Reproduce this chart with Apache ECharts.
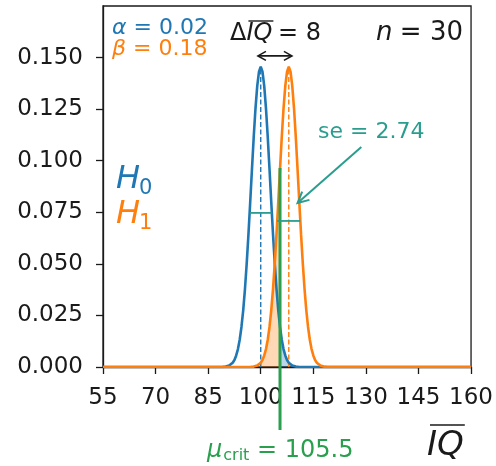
<!DOCTYPE html>
<html><head><meta charset="utf-8">
<script src="https://cdn.jsdelivr.net/npm/echarts@6/dist/echarts.min.js"></script>
<style>html,body{margin:0;padding:0;background:#fff}#c{width:496px;height:466px}</style>
</head><body><div id="c"></div>
<script>
// ---- data ----
const xTicks = [55, 70, 85, 100, 115, 130, 145, 160];
const yTicks = [0, 0.025, 0.05, 0.075, 0.1, 0.125, 0.15];
const iqH0 = [89,89.5,90,90.5,91,91.5,92,92.5,93,93.5,94,94.5,95,95.5,96,96.5,97,97.5,98,98.5,99,99.5,100,100.5,101,101.5,102,102.5,103,103.5,104,104.5,105,105.5,106,106.5,107,107.5,108,108.5,109,109.5,110,110.5,111];
const densH0 = [0.0000,0.0001,0.0002,0.0004,0.0007,0.0012,0.0021,0.0034,0.0056,0.0087,0.0132,0.0194,0.0275,0.0378,0.0502,0.0644,0.0800,0.0960,0.1115,0.1253,0.1362,0.1432,0.1456,0.1432,0.1362,0.1253,0.1115,0.0960,0.0800,0.0644,0.0502,0.0378,0.0275,0.0194,0.0132,0.0087,0.0056,0.0034,0.0021,0.0012,0.0007,0.0004,0.0002,0.0001,0.0000];
const iqH1 = [97,97.5,98,98.5,99,99.5,100,100.5,101,101.5,102,102.5,103,103.5,104,104.5,105,105.5,106,106.5,107,107.5,108,108.5,109,109.5,110,110.5,111,111.5,112,112.5,113,113.5,114,114.5,115,115.5,116,116.5,117,117.5,118,118.5,119];
const densH1 = [0.0000,0.0001,0.0002,0.0004,0.0007,0.0012,0.0021,0.0034,0.0056,0.0087,0.0132,0.0194,0.0275,0.0378,0.0502,0.0644,0.0800,0.0960,0.1115,0.1253,0.1362,0.1432,0.1456,0.1432,0.1362,0.1253,0.1115,0.0960,0.0800,0.0644,0.0502,0.0378,0.0275,0.0194,0.0132,0.0087,0.0056,0.0034,0.0021,0.0012,0.0007,0.0004,0.0002,0.0001,0.0000];
const mu0 = 100, mu1 = 108, muCrit = 105.5, peak = 0.1456;
const alphaVal = '0.02', betaVal = '0.18', seVal = '2.74', nVal = '30', deltaVal = '8';

// ---- styling ----
const BLUE = '#1f77b4', ORANGE = '#ff7f0e', GREEN = '#2aa04f', TEAL = '#2a9d8f', INK = '#1a1a1a';
const FF = '"DejaVu Sans"';
const xMin = 55, xMax = 160;

const pair = (xs, ys) => xs.map((x, i) => [x, ys[i]]);
const curve0 = [[xMin, 0]].concat(pair(iqH0, densH0), [[xMax, 0]]);
const curve1 = [[xMin, 0]].concat(pair(iqH1, densH1), [[xMax, 0]]);
const betaArea = pair(iqH1, densH1).filter(p => p[0] <= muCrit);
const alphaArea = pair(iqH0, densH0).filter(p => p[0] >= muCrit);

const mctx = document.createElement('canvas').getContext('2d');
function tw(text, font) { mctx.font = font; return mctx.measureText(text).width; }
function fnt(size, italic) { return (italic ? 'italic ' : '') + size + 'px ' + FF; }
function T(x, y, text, size, color, italic) {
  return { type: 'text', z: 100, silent: true, style: { x: x, y: y, text: text, fill: color, font: fnt(size, italic), align: 'left', verticalAlign: 'middle' } };
}
function L(x1, y1, x2, y2, color, w) {
  return { type: 'line', z: 100, silent: true, shape: { x1, y1, x2, y2 }, style: { stroke: color, lineWidth: w } };
}

const graphics = [];
// alpha / beta
(function () {
  const s = 22, x0 = 112;
  const wa = tw('α', fnt(s, true));
  graphics.push(T(x0, 28, 'α', s, BLUE, true), T(x0 + wa, 28, ' = ' + alphaVal, s, BLUE, false));
  const wb = tw('β', fnt(s, true));
  graphics.push(T(x0, 49, 'β', s, ORANGE, true), T(x0 + wb, 49, ' = ' + betaVal, s, ORANGE, false));
})();
// Delta IQ = 8
(function () {
  const s = 24, x0 = 230, y = 34;
  const wd = tw('Δ', fnt(s, false));
  const wiq = tw('IQ', fnt(s, true));
  graphics.push(T(x0, y, 'Δ', s, INK, false), T(x0 + wd, y, 'IQ', s, INK, true), T(x0 + wd + wiq - 2, y, ' = ' + deltaVal, s, INK, false));
  graphics.push(L(x0 + wd + 2, y - 13, x0 + wd + wiq + 1, y - 13, INK, 1.4));
})();
// n = 30
(function () {
  const s = 26, y = 33;
  const wn = tw('n', fnt(s, true));
  const wr = tw(' = ' + nVal, fnt(s, false));
  const x0 = 461 - wn - wr;
  graphics.push(T(x0 + 3, y, 'n', s, INK, true), T(x0 + wn + 2, y, ' = ' + nVal, s, INK, false));
})();
// se
graphics.push(T(318, 132, 'se = ' + seVal, 22, TEAL, false));
// H0 / H1
(function () {
  const s = 32, ss = 21, x0 = 116;
  const wh = tw('H', fnt(s, true));
  graphics.push(T(x0, 180, 'H', s, BLUE, true), T(x0 + wh - 1, 189, '0', ss, BLUE, false));
  graphics.push(T(x0, 215, 'H', s, ORANGE, true), T(x0 + wh - 1, 224, '1', ss, ORANGE, false));
})();
// mu_crit
(function () {
  const s = 24, x0 = 207, y = 451;
  const wm = tw('μ', fnt(s, true));
  const wc = tw('crit', fnt(16, false));
  graphics.push(T(x0, y, 'μ', s, GREEN, true), T(x0 + wm + 1, y + 5, 'crit', 16, GREEN, false), T(x0 + wm + wc + 1, y, ' = ' + muCrit, s, GREEN, false));
})();
// x-axis title
(function () {
  const s = 34, x0 = 427, y = 446;
  const w = tw('IQ', fnt(s, true));
  graphics.push(T(x0, y, 'IQ', s, INK, true), L(x0 + 3, 425, x0 + w + 1, 425, INK, 1.6));
})();

function arrowHead(tip, tail, len, half) {
  const dx = tail[0] - tip[0], dy = tail[1] - tip[1];
  const d = Math.hypot(dx, dy), ux = dx / d, uy = dy / d;
  const px = -uy, py = ux;
  return [[tip[0] + ux * len + px * half, tip[1] + uy * len + py * half], tip, [tip[0] + ux * len - px * half, tip[1] + uy * len - py * half]];
}

const option = {
  animation: false,
  backgroundColor: '#fff',
  grid: { left: 103, right: 24, top: 6, bottom: 99, show: true, borderColor: INK, borderWidth: 1.3, backgroundColor: 'transparent' },
  xAxis: {
    type: 'value', min: xMin, max: xMax,
    axisLine: { show: true, onZero: false, lineStyle: { color: INK, width: 1.3 } },
    axisTick: { show: true, length: 7, customValues: xTicks, lineStyle: { color: INK, width: 1.3 } },
    axisLabel: { customValues: xTicks, color: INK, fontSize: 23, fontFamily: 'DejaVu Sans', margin: 20 },
    splitLine: { show: false }
  },
  yAxis: {
    type: 'value', min: 0, max: 0.175,
    axisLine: { show: true, onZero: false, lineStyle: { color: INK, width: 1.3 } },
    axisTick: { show: true, length: 7, customValues: yTicks, lineStyle: { color: INK, width: 1.3 } },
    axisLabel: { customValues: yTicks, color: INK, fontSize: 23, fontFamily: 'DejaVu Sans', margin: 20, formatter: v => v.toFixed(3) },
    splitLine: { show: false }
  },
  graphic: graphics,
  series: [
    { type: 'line', z: 1, data: betaArea, symbol: 'none', silent: true, lineStyle: { width: 0, opacity: 0 }, areaStyle: { color: 'rgba(255,127,14,0.3)', opacity: 1 } },
    { type: 'line', z: 1, data: alphaArea, symbol: 'none', silent: true, lineStyle: { width: 0, opacity: 0 }, areaStyle: { color: 'rgba(31,119,180,0.3)', opacity: 1 } },
    { type: 'line', z: 2, data: [[mu0, 0], [mu0, peak]], symbol: 'none', silent: true, lineStyle: { color: BLUE, width: 1.4, type: [5, 2.5] } },
    { type: 'line', z: 2, data: [[mu1, 0], [mu1, peak]], symbol: 'none', silent: true, lineStyle: { color: ORANGE, width: 1.4, type: [5, 2.5] } },
    { type: 'line', z: 3, data: curve0, symbol: 'none', silent: true, lineStyle: { color: BLUE, width: 2.6 } },
    { type: 'line', z: 4, data: curve1, symbol: 'none', silent: true, lineStyle: { color: ORANGE, width: 2.6 } },
    {
      type: 'custom', coordinateSystem: 'cartesian2d', clip: false, z: 5, silent: true,
      data: [[muCrit, 0]],
      renderItem: function (params, api) {
        const c = p => api.coord(p);
        const ch = [];
        const g1 = c([muCrit, 0.0965]), g2 = c([muCrit, -0.0305]);
        ch.push({ type: 'line', shape: { x1: g1[0], y1: g1[1], x2: g2[0], y2: g2[1] }, style: { stroke: GREEN, lineWidth: 3 } });
        const s0a = c([96.9, 0.0747]), s0b = c([103.1, 0.0747]);
        const s1a = c([104.7, 0.0708]), s1b = c([111.3, 0.0708]);
        ch.push({ type: 'line', shape: { x1: s0a[0], y1: s0a[1], x2: s0b[0], y2: s0b[1] }, style: { stroke: TEAL, lineWidth: 1.8 } });
        ch.push({ type: 'line', shape: { x1: s1a[0], y1: s1a[1], x2: s1b[0], y2: s1b[1] }, style: { stroke: TEAL, lineWidth: 1.8 } });
        const a1 = c([99.2, 0.1508]), a2 = c([108.9, 0.1508]);
        ch.push({ type: 'line', shape: { x1: a1[0], y1: a1[1], x2: a2[0], y2: a2[1] }, style: { stroke: INK, lineWidth: 1.6 } });
        ch.push({ type: 'polyline', shape: { points: arrowHead(a1, a2, 8, 4.5) }, style: { stroke: INK, fill: 'none', lineWidth: 1.6 } });
        ch.push({ type: 'polyline', shape: { points: arrowHead(a2, a1, 8, 4.5) }, style: { stroke: INK, fill: 'none', lineWidth: 1.6 } });
        const t1 = c([128.7, 0.1066]), t2 = c([110.5, 0.0795]);
        ch.push({ type: 'line', shape: { x1: t1[0], y1: t1[1], x2: t2[0], y2: t2[1] }, style: { stroke: TEAL, lineWidth: 2 } });
        ch.push({ type: 'polyline', shape: { points: arrowHead(t2, t1, 11, 5.5) }, style: { stroke: TEAL, fill: 'none', lineWidth: 2 } });
        return { type: 'group', children: ch };
      }
    }
  ]
};
const chart = echarts.init(document.getElementById('c'), null, { renderer: 'canvas' });
chart.setOption(option);
</script>
</body></html>
